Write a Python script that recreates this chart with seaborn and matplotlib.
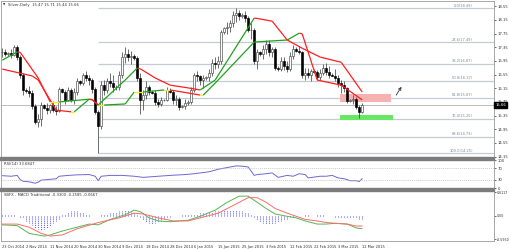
import numpy as np
import pandas as pd
import seaborn as sns
import matplotlib
matplotlib.use("Agg")
import matplotlib.pyplot as plt
from matplotlib.patches import Rectangle
from matplotlib.transforms import blended_transform_factory as blend

sns.set_style("white")
plt.rcParams['font.family'] = ['DejaVu Sans']

# ---- bars: MT4 feed with Sunday bars (Sun..Fri), 23 Oct 2014 .. 12 Mar 2015
days = pd.date_range('2014-10-23', '2015-03-12', freq='D')
dates = [d for d in days if d.weekday() != 5]
date_str = [f"{d.day} {d.strftime('%b %Y')}" for d in dates]

opens = [17.20, 17.22, 17.15, 17.17, 17.12, 17.35, 17.05, 16.55, 16.10, 16.08,
         16.00, 15.62, 15.15, 15.25, 15.65, 15.58, 15.50, 15.65, 15.52, 15.48,
         16.12, 16.05, 15.82, 16.10, 15.80, 16.05, 16.35, 16.30, 16.55, 16.45,
         16.40, 16.12, 15.45, 15.05, 16.25, 16.10, 16.35, 16.30, 16.20, 16.18,
         16.55, 17.05, 17.15, 17.05, 17.10, 17.02, 16.45, 15.80, 15.95, 16.20,
         16.05, 16.02, 15.75, 15.70, 15.80, 15.82, 16.10, 16.05, 15.80, 15.85,
         15.60, 15.62, 15.72, 15.75, 16.10, 16.55, 16.50, 16.40, 16.45, 16.48,
         16.60, 16.90, 16.85, 16.95, 17.80, 17.90, 17.95, 18.05, 18.30, 18.35,
         18.25, 18.30, 18.20, 17.85, 17.85, 16.95, 17.20, 17.15, 17.30, 17.45,
         17.20, 17.30, 16.75, 16.72, 16.95, 16.80, 16.70, 17.10, 17.30, 17.25,
         17.20, 16.55, 16.60, 16.55, 16.65, 16.62, 16.48, 16.60, 16.75, 16.62,
         16.55, 16.52, 16.45, 16.30, 16.25, 16.15, 15.78, 15.80, 15.85, 15.60,
         15.47]
highs = [17.33, 17.30, 17.20, 17.30, 17.42, 17.40, 17.12, 16.60, 16.15, 16.22,
         16.10, 15.70, 15.40, 15.75, 15.70, 15.72, 15.70, 15.78, 15.62, 16.20,
         16.15, 16.10, 16.20, 16.15, 16.15, 16.45, 16.40, 16.60, 16.65, 16.55,
         16.45, 16.20, 15.50, 16.35, 16.40, 16.45, 16.60, 16.55, 16.25, 16.65,
         17.20, 17.35, 17.30, 17.25, 17.15, 17.10, 16.60, 16.10, 16.35, 16.25,
         16.10, 16.10, 15.85, 15.90, 15.85, 16.20, 16.15, 16.10, 15.95, 15.90,
         15.65, 15.85, 15.80, 16.20, 16.60, 16.65, 16.55, 16.55, 16.50, 16.70,
         17.00, 17.05, 17.10, 17.85, 17.95, 18.10, 18.15, 18.40, 18.49, 18.45,
         18.35, 18.40, 18.25, 18.05, 17.90, 17.30, 17.25, 17.40, 17.55, 17.55,
         17.35, 17.35, 16.80, 17.05, 17.05, 16.95, 17.20, 17.40, 17.35, 17.38,
         17.25, 16.75, 16.75, 16.70, 16.70, 16.68, 16.70, 16.85, 16.90, 16.80,
         16.60, 16.70, 16.55, 16.38, 16.35, 16.20, 15.85, 15.95, 15.90, 15.65,
         15.71]
lows = [17.05, 17.08, 17.10, 17.02, 17.08, 16.98, 16.45, 15.95, 16.02, 15.90,
        15.55, 15.10, 15.02, 15.05, 15.55, 15.40, 15.42, 15.45, 15.38, 15.45,
        16.00, 15.70, 15.78, 15.75, 15.68, 15.95, 16.25, 16.25, 16.35, 16.25,
        16.00, 15.40, 14.25, 14.95, 15.95, 16.00, 16.20, 16.05, 16.10, 16.10,
        16.45, 16.90, 16.95, 16.85, 16.98, 16.35, 15.40, 15.50, 15.85, 15.95,
        15.98, 15.65, 15.60, 15.62, 15.78, 15.78, 16.02, 15.70, 15.65, 15.50,
        15.58, 15.55, 15.65, 15.70, 16.05, 16.35, 16.25, 16.15, 16.40, 16.35,
        16.50, 16.70, 16.75, 16.85, 17.75, 17.75, 17.80, 17.95, 18.10, 18.15,
        18.20, 18.10, 17.80, 17.60, 16.85, 16.70, 17.10, 17.00, 17.15, 17.10,
        17.05, 16.68, 16.65, 16.65, 16.68, 16.62, 16.65, 17.00, 17.22, 17.15,
        16.45, 16.40, 16.45, 16.35, 16.60, 16.40, 16.40, 16.55, 16.55, 16.45,
        16.50, 16.35, 16.20, 16.00, 16.05, 15.72, 15.75, 15.70, 15.55, 15.28,
        15.44]
closes = [17.22, 17.15, 17.17, 17.12, 17.35, 17.05, 16.55, 16.10, 16.08, 16.00,
          15.62, 15.15, 15.25, 15.65, 15.58, 15.50, 15.65, 15.52, 15.48, 16.12,
          16.05, 15.82, 16.10, 15.80, 16.05, 16.35, 16.30, 16.55, 16.45, 16.40,
          16.12, 15.45, 15.05, 16.25, 16.10, 16.35, 16.30, 16.20, 16.18, 16.55,
          17.05, 17.15, 17.05, 17.10, 17.02, 16.45, 15.80, 15.95, 16.20, 16.05,
          16.02, 15.75, 15.70, 15.80, 15.82, 16.10, 16.05, 15.80, 15.85, 15.60,
          15.62, 15.72, 15.75, 16.10, 16.55, 16.50, 16.40, 16.45, 16.48, 16.60,
          16.90, 16.85, 16.95, 17.80, 17.90, 17.95, 18.05, 18.30, 18.35, 18.25,
          18.30, 18.20, 17.85, 17.85, 16.95, 17.20, 17.15, 17.30, 17.45, 17.20,
          17.30, 16.75, 16.72, 16.95, 16.80, 16.70, 17.10, 17.30, 17.25, 17.20,
          16.55, 16.60, 16.55, 16.65, 16.62, 16.48, 16.60, 16.75, 16.62, 16.55,
          16.52, 16.45, 16.30, 16.25, 16.15, 15.78, 15.80, 15.85, 15.60, 15.47,
          15.66]

# two trend lines drawn by the template (vertices: bar index, price)
fast_idx = [0, 5, 6, 12, 16, 19, 29, 30, 32, 41, 45, 46, 51, 56, 62, 66, 71, 84, 85,
            90, 95, 100, 106, 113, 120]
fast_val = [16.97, 17.21, 17.20, 16.45, 15.75, 15.75, 15.83, 15.81, 15.66, 16.39,
            16.74, 16.72, 16.45, 16.24, 16.16, 16.10, 16.39, 18.20, 18.19, 18.11,
            17.56, 17.32, 17.06, 16.91, 16.04]
slow_idx = [0, 10, 12, 15, 18, 23, 24, 29, 30, 32, 34, 41, 44, 47, 54, 56, 66, 67,
            72, 84, 95, 99, 100, 105, 113, 120]
slow_val = [16.71, 16.51, 16.39, 15.95, 15.51, 15.46, 15.46, 15.83, 15.82, 15.66,
            15.66, 15.69, 16.04, 16.04, 16.10, 16.10, 15.95, 15.95, 16.39, 17.50,
            17.56, 17.76, 17.74, 16.39, 16.24, 15.81]

# fibonacci retracement (anchored at the 30 Nov low)
fib_start = 32
fib_prices = [18.49, 17.49, 16.87, 16.37, 15.87, 15.25, 14.73, 14.25]
fib_labels = ['0.0(18.49)', '23.6(17.49)', '38.2(16.87)', '50.0(16.37)',
              '61.8(15.87)', '76.4(15.25)', '88.6(14.73)', '100.0(14.25)']

resist_zone = (15.75, 15.98)
support_zone = (15.22, 15.37)
zone_bars = (112.7, 129.7)
arrow_from = (130.8, 15.88)
arrow_to = (133.6, 16.26)
last_price = 15.66

price_ticks = [14.15, 14.55, 14.95, 15.35, 15.75, 16.15, 16.55, 16.95, 17.35,
               17.75, 18.15, 18.55]

# RSI(14)
rsi_idx = [0, 3, 5, 6, 7, 9, 11, 12, 13, 15, 18, 19, 22, 25, 29, 31, 32, 33, 36, 40,
           44, 47, 52, 56, 61, 64, 69, 72, 75, 78, 80, 82, 84, 85, 88, 90, 92, 95,
           97, 99, 101, 102, 106, 108, 110, 112, 114, 116, 118, 119, 120]
rsi_val = [44, 42, 45, 30, 24, 22, 17, 21, 28, 30, 33, 42, 45, 47, 48, 42, 26, 42,
           45, 45, 42, 38, 42, 45, 48, 51, 58, 67, 73, 79, 78, 75, 45, 48, 51, 54,
           38, 45, 42, 51, 48, 36, 42, 42, 45, 36, 33, 26, 26, 23, 33.68]

# MACD traditional
macd_idx = [0, 5, 9, 14, 16, 20, 24, 29, 32, 36, 41, 44, 46, 49, 52, 56, 62, 66, 71,
            75, 79, 82, 85, 88, 91, 95, 98, 101, 105, 108, 111, 115, 118, 120]
macd_val = [-0.23, -0.25, -0.45, -0.52, -0.49, -0.39, -0.31, -0.21, -0.23, -0.09,
            0.03, 0.15, 0.11, -0.05, -0.13, -0.15, -0.11, -0.01, 0.15, 0.35, 0.51,
            0.51, 0.35, 0.19, 0.05, -0.01, -0.05, -0.13, -0.21, -0.21, -0.19, -0.21,
            -0.31, -0.33]
sig_idx = [0, 5, 9, 13, 16, 20, 25, 32, 39, 44, 47, 52, 57, 62, 66, 72, 77, 82, 85,
           88, 91, 95, 98, 101, 105, 108, 111, 115, 118, 120]
sig_val = [-0.21, -0.21, -0.29, -0.45, -0.52, -0.49, -0.33, -0.17, -0.05, 0.07, 0.05,
           -0.05, -0.13, -0.13, -0.05, 0.07, 0.27, 0.47, 0.47, 0.35, 0.19, 0.07,
           -0.01, -0.09, -0.13, -0.17, -0.19, -0.21, -0.26, -0.26]
hist_val = [0.03, 0.03, 0.03, 0.02, 0.02, 0.01, -0.02,
            -0.06, -0.12, -0.18, -0.24, -0.30, -0.34, -0.36, -0.34, -0.30, -0.25, -0.19, -0.13, -0.07,
            0.02, 0.06, 0.10, 0.12, 0.13, 0.12, 0.10, 0.07,
            0.04, 0.02, 0.01, 0.00, -0.01,
            0.02, 0.04, 0.06, 0.08, 0.10, 0.11, 0.12, 0.13, 0.14, 0.15, 0.12, 0.08,
            0.02, -0.05, -0.10, -0.15, -0.18, -0.20, -0.19, -0.16, -0.12, -0.08, -0.04,
            -0.02, -0.01, 0.00, 0.01, 0.02, 0.02, 0.03,
            0.04, 0.05, 0.06, 0.07, 0.08, 0.09, 0.10, 0.11, 0.12, 0.13, 0.14, 0.15, 0.15,
            0.16, 0.15, 0.14, 0.13, 0.12, 0.10, 0.07, 0.03,
            -0.04, -0.10, -0.15, -0.19, -0.21, -0.21, -0.20, -0.18, -0.16, -0.13, -0.10, -0.07, -0.04,
            -0.02, -0.01, 0.00, 0.01, 0.02, 0.02, 0.01, 0.01, 0.02, 0.03, 0.02, 0.01, 0.00, -0.01, -0.02,
            -0.03, -0.04, -0.05, -0.05, -0.06, -0.06, -0.06, -0.07, -0.07]
macd_range = (-0.5960, 0.6117)

date_labels = ['23 Oct 2014', '2 Nov 2014', '11 Nov 2014', '20 Nov 2014', '30 Nov 2014',
               '9 Dec 2014', '18 Dec 2014', '28 Dec 2014', '6 Jan 2015', '15 Jan 2015',
               '25 Jan 2015', '3 Feb 2015', '12 Feb 2015', '22 Feb 2015', '3 Mar 2015',
               '12 Mar 2015']

title_main = 'Silver,Daily  15.47 15.71 15.44 15.66'
title_rsi = 'RSI(14) 33.6847'
title_macd = 'SBFX - MACD Traditional -0.3300 -0.2585 -0.0667'

# ---------------------------------------------------------------- figure
W, H = 510, 249
fig = plt.figure(figsize=(W / 100, H / 100), dpi=100)
fig.patch.set_facecolor('white')


def box(l, t, r, b):
    return [l / W, 1 - b / H, (r - l) / W, (b - t) / H]


ax = fig.add_axes(box(1, 1, 494, 157))
ax_rsi = fig.add_axes(box(1, 160, 494, 188))
ax_macd = fig.add_axes(box(1, 191, 494, 241))
xlim = (-0.4, -0.4 + 493 / 3.0)
FS = 2.7

for a in (ax, ax_rsi, ax_macd):
    a.set_xlim(*xlim)
    a.set_facecolor('white')
    for s in a.spines.values():
        s.set_color('#9a9a9a')
        s.set_linewidth(0.6)
    a.yaxis.tick_right()
    a.tick_params(axis='y', labelsize=FS, length=1.5, width=0.5, pad=1.0, colors='#303030')
    a.tick_params(axis='x', length=0)
    a.set_xticks([])

# thick panel separators
for y0 in (157, 188):
    fig.patches.append(Rectangle((0, 1 - (y0 + 2.6) / H), 494.5 / W, 2.6 / H,
                                 transform=fig.transFigure, color='#7c7c7c', zorder=10))

# ---- main price panel
x = np.arange(len(dates))
o, h, l, c = map(np.array, (opens, highs, lows, closes))
up = c >= o
ax.vlines(x, l, h, color='#454545', lw=0.55, zorder=2)
ax.bar(x[up], np.maximum(c - o, 0.008)[up], bottom=o[up], width=0.62,
       color='white', edgecolor='#454545', linewidth=0.45, zorder=3)
ax.bar(x[~up], (o - c)[~up], bottom=c[~up], width=0.62,
       color='black', edgecolor='black', linewidth=0.45, zorder=3)

ax.hlines(fib_prices, fib_start, xlim[1], color='#c6cad2', lw=0.9, zorder=1)
tr = blend(ax.transAxes, ax.transData)
for p, t in zip(fib_prices, fib_labels):
    ax.text(0.957, p + 0.02, t, transform=tr, ha='right', va='bottom',
            fontsize=2.6, color='#7b8796')
ax.axhline(last_price, color='#bdbdbd', lw=0.7, zorder=1)

ax.add_patch(Rectangle((zone_bars[0], resist_zone[0]), zone_bars[1] - zone_bars[0],
                       resist_zone[1] - resist_zone[0], fc='#f6b1b1', ec='none', zorder=1.5))
ax.add_patch(Rectangle((zone_bars[0], support_zone[0]), zone_bars[1] - zone_bars[0] + 0.7,
                       support_zone[1] - support_zone[0], fc='#66e866', ec='none', zorder=1.5))
ax.annotate('', xy=arrow_to, xytext=arrow_from,
            arrowprops=dict(arrowstyle='->', lw=0.6, color='#333333', mutation_scale=5))


def trend_line(a, xs, ys):
    for x0, x1, y0, y1 in zip(xs[:-1], xs[1:], ys[:-1], ys[1:]):
        slope = (y1 - y0) / (x1 - x0)
        col = '#1fa21f' if slope > 0.004 else ('#ff1f1f' if slope < -0.004 else '#f0f000')
        a.plot([x0, x1], [y0, y1], color=col, lw=0.9, solid_capstyle='butt', zorder=4)


trend_line(ax, slow_idx, slow_val)
trend_line(ax, fast_idx, fast_val)

ax.set_ylim(14.14, 18.70)
ax.set_yticks(price_ticks)
ax.set_yticklabels([f'{v:.2f}' for v in price_ticks])
ax.text(1.003, last_price, f'{last_price:.2f}', transform=tr, ha='left', va='center',
        fontsize=FS, color='white', zorder=20,
        bbox=dict(fc='black', ec='black', pad=0.3, boxstyle='square'), clip_on=False)
ax.text(0.004, 0.988, '\u25bc', transform=ax.transAxes, ha='left', va='top',
        fontsize=2.2, color='#333333')
ax.text(0.014, 0.99, title_main, transform=ax.transAxes, ha='left', va='top',
        fontsize=FS, color='#333333')

# ---- RSI panel
sns.lineplot(x=rsi_idx, y=rsi_val, ax=ax_rsi, color='#6c68d0', lw=0.7, sort=False)
for lev in (30, 70):
    ax_rsi.axhline(lev, color='#b8b8b8', lw=0.5, ls=(0, (1.5, 1.5)))
ax_rsi.set_ylim(0, 100)
ax_rsi.set_yticks([0, 30, 70, 100])
ax_rsi.set_ylabel('')
ax_rsi.text(0.006, 0.93, title_rsi, transform=ax_rsi.transAxes, ha='left', va='top',
            fontsize=FS, color='#333333')

# ---- MACD panel
ax_macd.vlines(x, 0, hist_val, colors='#5f5ff5', lw=0.75, linestyles=(0, (1, 1)), zorder=2)
sns.lineplot(x=macd_idx, y=macd_val, ax=ax_macd, color='#52b852', lw=0.7, sort=False)
sns.lineplot(x=sig_idx, y=sig_val, ax=ax_macd, color='#ff6a6a', lw=0.7, sort=False)
ax_macd.set_ylim(macd_range[0] - 0.05, macd_range[1] + 0.03)
ax_macd.set_yticks([macd_range[0], 0, macd_range[1]])
ax_macd.set_yticklabels([f'{macd_range[0]:.4f}', '0.00', f'{macd_range[1]:.4f}'])
ax_macd.tick_params(axis='y', labelsize=2.35, pad=0.6)
ax_macd.set_ylabel('')
ax_macd.text(0.006, 0.96, title_macd, transform=ax_macd.transAxes, ha='left', va='top',
             fontsize=FS, color='#333333')

tick_pos = [date_str.index(d) for d in date_labels]
ax_macd.set_xticks(tick_pos)
ax_macd.set_xticklabels(date_labels, ha='left')
ax_macd.tick_params(axis='x', labelsize=2.6, length=1.5, width=0.5, pad=1.2,
                    colors='#303030')

fig.savefig('out.png', dpi=100, facecolor='white')
